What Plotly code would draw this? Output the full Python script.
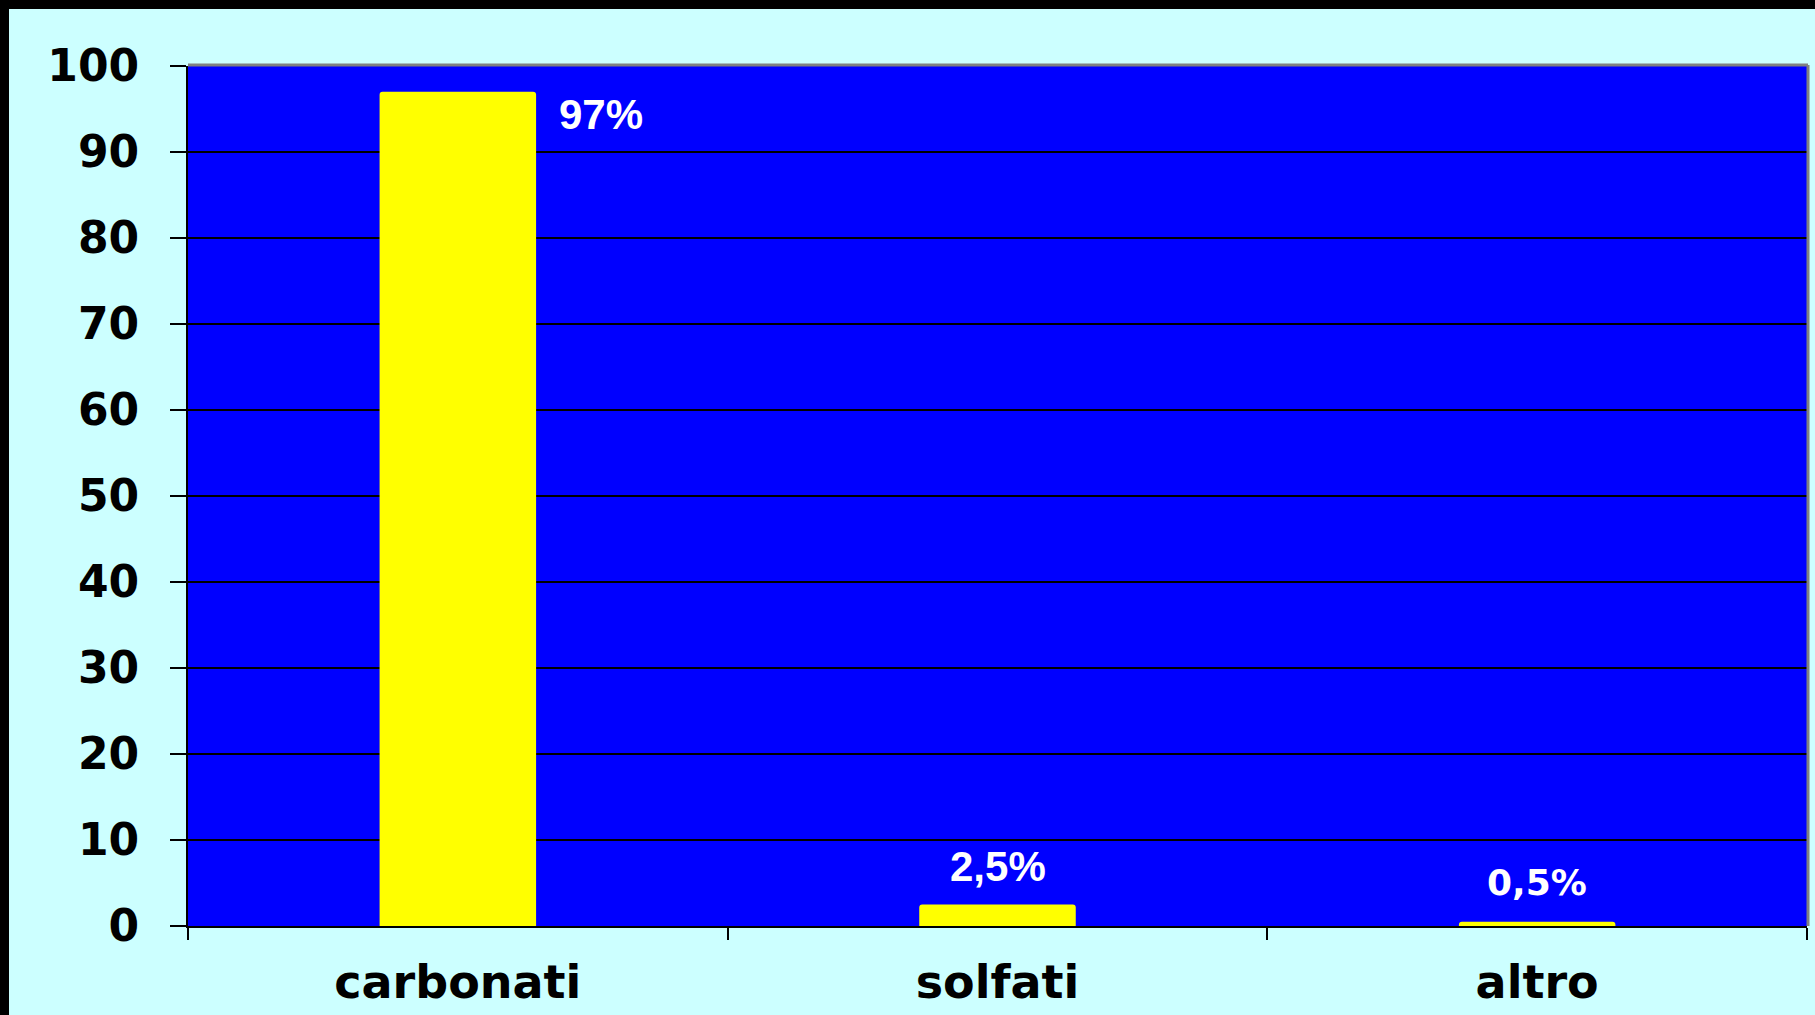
import plotly.graph_objects as go

categories = ["carbonati", "solfati", "altro"]
values = [97, 2.5, 0.5]
value_labels = ["97%", "2,5%", "0,5%"]
y_ticks = [0, 10, 20, 30, 40, 50, 60, 70, 80, 90, 100]

W, H = 1815, 1015
ML, MR, MT, MB = 188, 8, 66, 89
PW, PH = W - ML - MR, H - MT - MB

fig = go.Figure()
fig.add_trace(go.Bar(
    x=categories, y=values,
    marker=dict(color="#FFFF00", line=dict(width=0), cornerradius=3),
    hoverinfo="skip",
))

# value labels
label_styles = [
    dict(font=dict(family="Liberation Sans, Arial", size=42, color="white", weight="bold"), xshift=143, yshift=-23),
    dict(font=dict(family="Liberation Sans, Arial", size=42, color="white", weight="bold"), xshift=0, yshift=38),
    dict(font=dict(family="DejaVu Sans, Verdana", size=36, color="white", weight="bold"), xshift=0, yshift=39),
]
for cat, val, lab, st in zip(categories, values, value_labels, label_styles):
    fig.add_annotation(x=cat, y=val, xref="x", yref="y", text=lab, showarrow=False,
                       xanchor="center", yanchor="middle", **st)

# frame: gray top/right border
fig.add_shape(type="line", xref="paper", yref="paper", x0=0, x1=1 + 1 / PW, y0=1 + 1 / PH, y1=1 + 1 / PH,
              line=dict(color="#808080", width=3), layer="above")
fig.add_shape(type="line", xref="paper", yref="paper", x0=1 + 1 / PW, x1=1 + 1 / PW, y0=0, y1=1 + 1 / PH,
              line=dict(color="#808080", width=3), layer="above")

# black outer borders (top and left)
fig.add_shape(type="rect", xref="paper", yref="paper",
              x0=-ML / PW, x1=(PW + MR) / PW, y0=(PH + MT - 9) / PH, y1=(PH + MT) / PH,
              fillcolor="black", line=dict(width=0), layer="above")
fig.add_shape(type="rect", xref="paper", yref="paper",
              x0=-ML / PW, x1=(-ML + 9) / PW, y0=-MB / PH, y1=(PH + MT) / PH,
              fillcolor="black", line=dict(width=0), layer="above")

fig.update_layout(
    width=W, height=H,
    margin=dict(l=ML, r=MR, t=MT, b=MB, pad=0, autoexpand=False),
    paper_bgcolor="#CCFFFF",
    plot_bgcolor="#0000FF",
    bargap=0.71,
    showlegend=False,
    xaxis=dict(
        type="category", range=[-0.5, 2.5], tickson="boundaries",
        ticks="outside", ticklen=12, tickwidth=2, tickcolor="black",
        showline=True, linecolor="black", linewidth=2,
        showgrid=False, zeroline=False, automargin=False,
        tickfont=dict(family="DejaVu Sans", size=46, color="black", weight="bold"),
        ticklabelstandoff=15,
    ),
    yaxis=dict(
        range=[0, 100], tickvals=y_ticks, ticktext=[str(v) for v in y_ticks],
        ticks="outside", ticklen=16, tickwidth=2, tickcolor="black",
        showline=True, linecolor="black", linewidth=2,
        showgrid=True, gridcolor="black", gridwidth=2, zeroline=False, automargin=False,
        tickfont=dict(family="DejaVu Sans", size=44, color="black", weight="bold"),
        ticklabelstandoff=22,
    ),
)

fig.write_html("out.html", config={"displayModeBar": False},
               post_script="document.body.style.margin='0';document.body.style.overflow='hidden';")
